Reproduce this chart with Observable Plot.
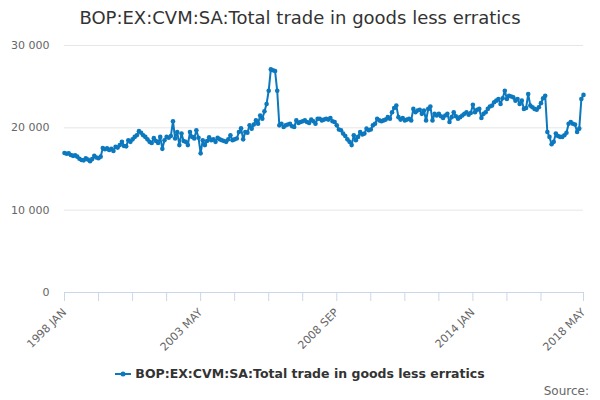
<!DOCTYPE html>
<html><head><meta charset="utf-8">
<script src="https://cdn.jsdelivr.net/npm/d3@7"></script>
<script src="https://cdn.jsdelivr.net/npm/@observablehq/plot@0.6"></script>
<style>
body{margin:0;background:#fff;font-family:"DejaVu Sans",sans-serif;}
#wrap{position:relative;width:600px;height:400px;overflow:hidden;}
#title{position:absolute;top:7px;left:0;width:600px;text-align:center;font-size:18px;line-height:22px;color:#333;}
#chart{position:absolute;left:0;top:30px;}
#legend{position:absolute;top:366px;left:0;width:600px;text-align:center;font-size:12.5px;line-height:16px;font-weight:bold;color:#333;}
#legend svg{vertical-align:middle;margin-right:4px;margin-top:-2px;}
#source{position:absolute;right:11px;top:383px;font-size:12px;line-height:16px;color:#666;}
</style></head>
<body><div id="wrap">
<div id="title"></div>
<div id="chart"></div>
<div id="legend"></div>
<div id="source">Source:</div>
</div>
<script>
const seriesName = "BOP:EX:CVM:SA:Total trade in goods less erratics";
const startYear = 1998;
const monthNames = ["JAN","FEB","MAR","APR","MAY","JUN","JUL","AUG","SEP","OCT","NOV","DEC"];
const values = [
 16950,16850,16900,16700,16600,16650,16500,16250,16100,16050,16300,16150, // 1998
 15950,16200,16600,16400,16300,16500,17550,17400,17500,17300,17450,17200, // 1999
 17700,17600,17900,18300,17800,17750,18500,18300,18600,18900,19100,19600, // 2000
 19400,19100,18900,18600,18300,18150,18750,18400,18150,18900,17450,18500, // 2001
 18900,18800,19000,20800,18700,19500,17900,19300,18400,18300,17900,19500, // 2002
 18900,18700,19700,18800,16900,18500,17900,18400,18850,18500,18600,18300, // 2003
 18800,18600,18500,18400,18300,18600,19100,18500,18600,18700,19500,19950, // 2004
 18600,19500,19400,20300,19900,20400,20900,20500,21500,21100,22000,22900, // 2005
 24500,27100,27000,26900,24500,20300,20500,20100,20300,20400,20500,20200, // 2006
 20100,20900,20600,20700,20800,20900,20700,20600,21000,20800,20500,21100, // 2007
 21100,20900,21000,21100,21000,21200,20800,20700,20300,19800,19700,19300, // 2008
 19000,18600,18300,17900,19100,18500,18900,19500,19200,19300,19900,19700, // 2009
 19800,20300,20500,21100,20900,20800,20900,21000,21300,21100,21900,22400, // 2010
 22700,21300,21000,21200,20900,21000,21100,20900,22300,21900,22100,22200, // 2011
 21700,22100,20900,22300,22600,20900,21700,21500,21700,21400,21200,21500, // 2012
 21700,20700,21300,21900,21400,21100,21300,21500,21700,21900,21600,21800, // 2013
 22800,21900,22200,22300,21200,21700,21900,22300,22600,22700,23100,23300, // 2014
 23500,22900,23600,24500,23500,23900,23800,23700,23300,23500,22900,23300, // 2015
 22300,22400,24100,22700,22500,22300,22200,22500,23000,23600,23900,19500, // 2016
 18900,18000,18300,19300,19000,18900,18900,19100,19400,20500,20700,20500, // 2017
 20400,19500,19900,23500,24000                                            // 2018
];
const tickLabels = ["1998 JAN","2003 MAY","2008 SEP","2014 JAN","2018 MAY"];
const yTicks = [0,10000,20000,30000];
const lineColor = "#0c78be";

const categories = values.map((_, i) => `${startYear + Math.floor(i / 12)} ${monthNames[i % 12]}`);
const data = values.map((v, i) => ({cat: categories[i], value: v}));
const tickMarks = categories.filter((_, i) => i % 16 === 0 && i <= 224).concat([categories[categories.length - 1]]);
const fmt = d => d3.format(",")(d).replace(/,/g, " ");

document.getElementById("title").textContent = seriesName;
document.getElementById("legend").innerHTML =
  `<svg width="16" height="10"><line x1="0" y1="5" x2="16" y2="5" stroke="${lineColor}" stroke-width="2"/><circle cx="8" cy="5" r="2.5" fill="${lineColor}"/></svg>` + seriesName;

const chart = Plot.plot({
  width: 600,
  height: 330,
  marginLeft: 64,
  marginRight: 17,
  marginTop: 15,
  marginBottom: 68,
  style: {fontFamily: "DejaVu Sans", fontSize: "11px", color: "#666", background: "transparent"},
  x: {type: "point", domain: categories, padding: 0},
  y: {domain: [0, 30000]},
  marks: [
    Plot.gridY(yTicks.filter(d => d > 0), {stroke: "#e6e6e6", strokeOpacity: 1}),
    Plot.ruleY([0], {stroke: "#ccd6eb"}),
    Plot.axisY(yTicks, {tickSize: 0, tickPadding: 15, tickFormat: fmt, fill: "#666", label: null}),
    Plot.axisX(tickMarks, {tickSize: 9, stroke: "#ccd6eb", tickFormat: () => "", label: null}),
    Plot.axisX(tickLabels, {tickSize: 0, tickRotate: -45, tickPadding: 18, fill: "#666", label: null}),
    Plot.line(data, {x: "cat", y: "value", stroke: lineColor, strokeWidth: 2}),
    Plot.dot(data, {x: "cat", y: "value", r: 2.3, fill: lineColor})
  ]
});
document.getElementById("chart").appendChild(chart);
</script>
</body></html>
